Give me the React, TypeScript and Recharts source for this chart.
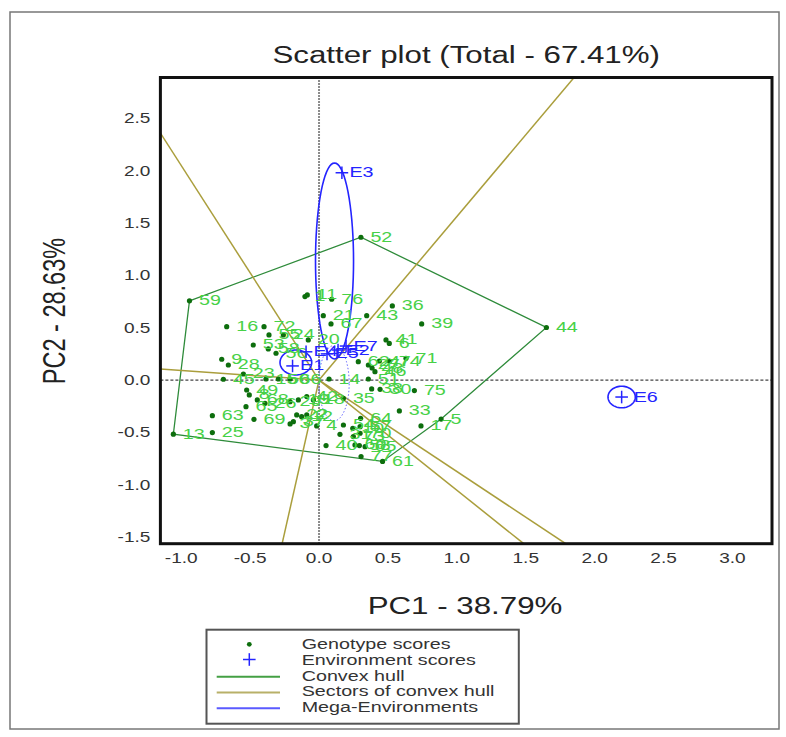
import React from 'react'
import { ScatterChart, Scatter, XAxis, YAxis, ReferenceLine } from 'recharts'

// genotype scores (PC1, PC2)
const GENO_NAMES = [
  '59', '52', '44', '5', '61', '13', '25', '63', '1', '11', '76', '36', '21', '43', '67', '39',
  '16', '72', '55', '24', '20', '41', '6', '53', '58', '56', '71', '9', '28', '62', '27', '47',
  '74', '46', '48', '51', '14', '45', '23', '15', '50', '66', '38', '30', '75', '49', '8', '35',
  '68', '26', '29', '19', '42', '18', '65', '69', '3', '37', '22', '12', '2', '33', '64', '54',
  '4', '17', '10', '57', '31', '73', '70', '40', '60', '58', '65', '77',
]
const GENO_PC1 = [
  -0.94, 0.304, 1.65, 0.886, 0.461, -1.057, -0.774, -0.774, -0.102, -0.085, 0.092, 0.532, 0.031, 0.346, 0.087, 0.745,
  -0.67, -0.399, -0.363, -0.259, -0.078, 0.486, 0.51, -0.477, -0.368, -0.312, 0.631, -0.706, -0.658, 0.285, 0.358, 0.438,
  0.51, 0.406, 0.385, 0.358, 0.073, -0.694, -0.549, -0.385, -0.295, -0.21, 0.382, 0.443, 0.692, -0.525, -0.506, 0.177,
  -0.448, -0.392, -0.21, -0.15, -0.089, -0.041, -0.53, -0.472, -0.21, -0.186, -0.162, -0.126, -0.089, 0.583, 0.302, 0.177,
  -0.017, 0.74, 0.245, 0.298, 0.152, 0.249, 0.298, 0.051, 0.261, 0.293, 0.334, 0.305,
]
const GENO_PC2 = [
  0.757, 1.364, 0.502, -0.373, -0.777, -0.517, -0.502, -0.34, 0.797, 0.813, 0.772, 0.708, 0.615, 0.615, 0.536, 0.536,
  0.51, 0.51, 0.431, 0.431, 0.383, 0.383, 0.35, 0.335, 0.297, 0.256, 0.208, 0.199, 0.144, 0.176, 0.144, 0.182,
  0.182, 0.08, 0.115, 0.01, 0.01, 0.008, 0.058, 0.01, 0.01, 0.01, -0.085, -0.088, -0.1, -0.095, -0.142, -0.174,
  -0.19, -0.222, -0.206, -0.19, -0.158, -0.19, -0.254, -0.375, -0.419, -0.397, -0.333, -0.35, -0.333, -0.295, -0.365, -0.429,
  -0.438, -0.438, -0.461, -0.445, -0.518, -0.54, -0.508, -0.626, -0.62, -0.626, -0.636, -0.731,
]

// environment scores
const ENV_NAMES = ['E1', 'E2', 'E3', 'E4', 'E5', 'E6', 'E7']
const ENV_PC1 = [-0.192, 0.138, 0.166, -0.094, 0.058, 2.196, 0.196]
const ENV_PC2 = [0.135, 0.287, 1.98, 0.27, 0.25, -0.162, 0.325]

// vertex genotypes of the convex hull, in drawing order
const HULL_ORDER = ['59', '52', '44', '5', '61', '13']

// mega-environment outlines: centre and radii
const MEGA_CX = [0.1125, -0.168, 2.196, 0.109]
const MEGA_CY = [1.1375, 0.168, -0.162, -0.03]
const MEGA_RX = [0.138, 0.115, 0.099, 0.11]
const MEGA_RY = [0.936, 0.119, 0.103, 0.36]
const MEGA_DOTTED = [false, false, false, true]

const X_TICKS = [-1, -0.5, 0, 0.5, 1, 1.5, 2, 2.5, 3]
const Y_TICKS = [-1.5, -1, -0.5, 0, 0.5, 1, 1.5, 2, 2.5]

const LEGEND_LABELS = ['Genotype scores', 'Environment scores', 'Convex hull', 'Sectors of convex hull', 'Mega-Environments']

const XMIN = -1.151
const XMAX = 3.287
const YMIN = -1.563
const YMAX = 2.89

const W = 786
const H = 737
const PLOT_LEFT = 160.4
const PLOT_TOP = 77.5
const PLOT_RIGHT = 772
const PLOT_BOTTOM = 543.7

const SX = 1.36 // the picture is stretched horizontally
const FONT = '"Liberation Sans", Arial, Helvetica, sans-serif'
const DOT = '#0d6e0d'
const LABEL_GREEN = '#47d147'
const HULL = '#2e8b3a'
const SECTOR = '#aa9e3c'
const BLUE = '#2424ff'

const genotypes = GENO_NAMES.map((name, i) => ({ x: GENO_PC1[i], y: GENO_PC2[i], name }))
const environments = ENV_NAMES.map((name, i) => ({ x: ENV_PC1[i], y: ENV_PC2[i], name }))

const hull = HULL_ORDER.map((n) => genotypes.find((g) => g.name === n)!)
const hullClosed = [...hull, hull[0]]

// ray from origin perpendicular to each hull edge, out to the plot border
const rays = hull.map((a, i) => {
  const b = hull[(i + 1) % hull.length]
  const dx = b.x - a.x
  const dy = b.y - a.y
  const t = -(a.x * dx + a.y * dy) / (dx * dx + dy * dy)
  const fx = a.x + t * dx
  const fy = a.y + t * dy
  let s = Infinity
  if (fx > 0) s = Math.min(s, XMAX / fx)
  if (fx < 0) s = Math.min(s, XMIN / fx)
  if (fy > 0) s = Math.min(s, YMAX / fy)
  if (fy < 0) s = Math.min(s, YMIN / fy)
  return [{ x: 0, y: 0 }, { x: fx * s, y: fy * s }]
})

const ellipse = (i: number) =>
  Array.from({ length: 73 }, (_, k) => {
    const a = (k / 72) * 2 * Math.PI
    return { x: MEGA_CX[i] + MEGA_RX[i] * Math.cos(a), y: MEGA_CY[i] + MEGA_RY[i] * Math.sin(a) }
  })

const Nothing = () => <g />

const Stretch = ({ x, y, children, anchor = 'start', size = 14.5, fill = '#333' }: any) => (
  <g transform={`translate(${x},${y}) scale(${SX},1)`}>
    <text x={0} y={0} textAnchor={anchor} fontSize={size} fill={fill} fontFamily={FONT}>
      {children}
    </text>
  </g>
)

const GenoDot = (p: any) => <circle cx={p.cx} cy={p.cy} r={2.6} fill={DOT} />
const GenoLabel = (p: any) => (
  <Stretch x={p.cx + 9.5} y={p.cy + 4.5} fill={LABEL_GREEN}>
    {p.payload.name}
  </Stretch>
)
const EnvMark = (p: any) => (
  <g>
    <line x1={p.cx - 6.3} x2={p.cx + 6.3} y1={p.cy} y2={p.cy} stroke={BLUE} strokeWidth={1.5} />
    <line x1={p.cx} x2={p.cx} y1={p.cy - 6.3} y2={p.cy + 6.3} stroke={BLUE} strokeWidth={1.5} />
    <Stretch x={p.cx + (p.payload.name === 'E6' ? 12 : 7.5)} y={p.cy + 4.5} fill={BLUE}>
      {p.payload.name}
    </Stretch>
  </g>
)

const XTick = (p: any) => (
  <Stretch x={p.x} y={PLOT_BOTTOM + 19.5} anchor="middle" size={14}>
    {Number(p.payload.value).toFixed(1)}
  </Stretch>
)
const YTick = (p: any) => (
  <Stretch x={PLOT_LEFT - 10} y={p.y + 5} anchor="end" size={14}>
    {Number(p.payload.value).toFixed(1)}
  </Stretch>
)

const LEG_X = 206.5
const LEG_Y = 629.7

const App = () => {
  return (
    <div style={{ position: 'absolute', left: 0, top: 0, width: W, height: H, background: '#fff' }}>
      <div style={{ position: 'absolute', left: 0, top: 0 }}>
        <ScatterChart
          width={W}
          height={H}
          margin={{ top: PLOT_TOP, right: W - PLOT_RIGHT, bottom: H - PLOT_BOTTOM - 30, left: PLOT_LEFT - 60 }}
        >
          <XAxis
            dataKey="x"
            type="number"
            domain={[XMIN, XMAX]}
            allowDataOverflow
            ticks={X_TICKS}
            interval={0}
            tick={XTick}
            tickLine={false}
            axisLine={false}
            height={30}
          />
          <YAxis
            dataKey="y"
            type="number"
            domain={[YMIN, YMAX]}
            allowDataOverflow
            ticks={Y_TICKS}
            interval={0}
            tick={YTick}
            tickLine={false}
            axisLine={false}
            width={60}
          />
          <ReferenceLine x={0} stroke="#666" strokeWidth={2} strokeDasharray="1.5 1.5" />
          <ReferenceLine y={0} stroke="#444" strokeWidth={1.3} strokeDasharray="3 2" />
          <Scatter
            data={hullClosed}
            fill="none"
            line={{ stroke: HULL, strokeWidth: 1.3 }}
            shape={Nothing}
            isAnimationActive={false}
          />
          {rays.map((r, i) => (
            <Scatter
              key={'ray' + i}
              data={r}
              fill="none"
              line={{ stroke: SECTOR, strokeWidth: 1.5 }}
              shape={Nothing}
              isAnimationActive={false}
            />
          ))}
          {MEGA_CX.map((_, i) => (
            <Scatter
              key={'mega' + i}
              data={ellipse(i)}
              fill="none"
              line={
                MEGA_DOTTED[i]
                  ? { stroke: '#6a6aff', strokeWidth: 1, strokeDasharray: '1.5 2' }
                  : { stroke: BLUE, strokeWidth: 1.6 }
              }
              shape={Nothing}
              isAnimationActive={false}
            />
          ))}
          <Scatter data={genotypes} shape={GenoDot} isAnimationActive={false} />
          <Scatter data={genotypes} shape={GenoLabel} isAnimationActive={false} />
          <Scatter data={environments} shape={EnvMark} isAnimationActive={false} />
        </ScatterChart>
      </div>
      <svg
        width={W}
        height={H}
        style={{ position: 'absolute', left: 0, top: 0, pointerEvents: 'none' }}
      >
        <rect x={10} y={12} width={769} height={717} fill="none" stroke="#777" strokeWidth={1.5} />
        <rect
          x={PLOT_LEFT}
          y={PLOT_TOP}
          width={PLOT_RIGHT - PLOT_LEFT}
          height={PLOT_BOTTOM - PLOT_TOP}
          fill="none"
          stroke="#111"
          strokeWidth={3}
        />
        <Stretch x={(PLOT_LEFT + PLOT_RIGHT) / 2} y={63} anchor="middle" size={23} fill="#222">
          Scatter plot (Total - 67.41%)
        </Stretch>
        <Stretch x={465} y={614} anchor="middle" size={23} fill="#222">
          PC1 - 38.79%
        </Stretch>
        <g transform={`translate(65,311) scale(${SX},1) rotate(-90)`}>
          <text x={0} y={0} textAnchor="middle" fontSize={23.5} fill="#222" fontFamily={FONT}>
            PC2 - 28.63%
          </text>
        </g>
        <rect x={LEG_X} y={LEG_Y} width={312.3} height={94} fill="#fff" stroke="#555" strokeWidth={2} />
        <circle cx={249.3} cy={644.3} r={2.4} fill={DOT} />
        <line x1={243} x2={255.6} y1={659.5} y2={659.5} stroke={BLUE} strokeWidth={1.5} />
        <line x1={249.3} x2={249.3} y1={653.2} y2={665.8} stroke={BLUE} strokeWidth={1.5} />
        <line x1={216.7} x2={280} y1={676.7} y2={676.7} stroke="#44a044" strokeWidth={2} />
        <line x1={216.7} x2={280} y1={692.5} y2={692.5} stroke="#b8b068" strokeWidth={2} />
        <line x1={216.7} x2={280} y1={708.3} y2={708.3} stroke="#5a5aff" strokeWidth={2} />
        {LEGEND_LABELS.map((t, i) => (
          <Stretch key={t} x={301.7} y={649 + i * 15.8} size={14.5} fill="#333">
            {t}
          </Stretch>
        ))}
      </svg>
    </div>
  )
}

export default App
